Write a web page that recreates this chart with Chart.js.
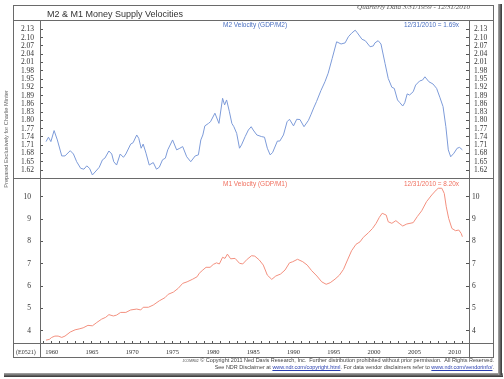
<!DOCTYPE html>
<html>
<head>
<meta charset="utf-8">
<script src="https://cdn.jsdelivr.net/npm/chart.js@4"></script>
<style>
  html, body { margin:0; padding:0; background:#fff; }
  body { width:504px; height:379px; position:relative; overflow:hidden; font-family:"Liberation Sans", Arial, sans-serif; }
  .ln { position:absolute; background:#6a6a6a; }
  .t { position:absolute; white-space:nowrap; line-height:1; }
  canvas { position:absolute; }
  a { color:#2a3fb0; text-decoration:underline; }
</style>
</head>
<body>
<script>
// ---- data ----
const m2Dates = [1959.3,1959.6,1959.9,1960.3,1960.7,1961.25,1961.65,1962.3,1962.7,1963.1,1963.6,1964.0,1964.35,1964.7,1965.05,1965.6,1965.9,1966.3,1966.6,1967.1,1967.45,1967.7,1968.05,1968.5,1968.9,1969.2,1969.8,1970.1,1970.55,1970.8,1971.1,1971.35,1971.7,1972.1,1972.6,1973.0,1973.35,1973.75,1974.1,1974.4,1975.0,1975.5,1975.9,1976.25,1976.75,1977.25,1977.8,1978.2,1978.5,1978.75,1979.0,1979.45,1979.7,1980.25,1980.75,1981.2,1981.45,1981.7,1982.05,1982.35,1982.6,1982.95,1983.3,1983.55,1984.0,1984.4,1984.75,1985.0,1985.45,1986.05,1986.4,1986.75,1987.1,1987.4,1988.0,1988.3,1988.75,1989.2,1989.5,1990.0,1990.4,1990.8,1991.3,1991.85,1992.15,1992.5,1992.85,1993.4,1993.9,1994.3,1994.8,1995.35,1995.9,1996.4,1996.8,1997.2,1997.65,1997.9,1998.5,1998.9,1999.5,1999.9,2000.1,2000.5,2000.85,2001.35,2001.75,2002.2,2002.5,2002.9,2003.2,2003.55,2003.8,2004.1,2004.4,2004.85,2005.15,2005.65,2006.0,2006.3,2006.8,2007.3,2007.75,2008.15,2008.55,2008.9,2009.2,2009.5,2009.9,2010.3,2010.6,2010.95];
const m2Values = [1.723,1.739,1.723,1.763,1.729,1.671,1.671,1.690,1.678,1.650,1.626,1.623,1.635,1.626,1.602,1.620,1.630,1.657,1.663,1.689,1.678,1.650,1.638,1.678,1.666,1.678,1.714,1.719,1.747,1.735,1.699,1.714,1.681,1.638,1.647,1.623,1.630,1.657,1.663,1.693,1.729,1.693,1.699,1.705,1.668,1.650,1.671,1.675,1.729,1.747,1.780,1.789,1.795,1.826,1.789,1.880,1.856,1.874,1.831,1.789,1.777,1.753,1.699,1.711,1.741,1.765,1.777,1.765,1.747,1.741,1.739,1.699,1.675,1.683,1.725,1.725,1.747,1.795,1.804,1.780,1.804,1.803,1.777,1.800,1.820,1.845,1.868,1.908,1.940,1.971,2.025,2.085,2.077,2.081,2.103,2.116,2.127,2.118,2.094,2.089,2.067,2.070,2.081,2.089,2.077,2.007,1.952,1.920,1.916,1.874,1.864,1.852,1.864,1.896,1.892,1.904,1.928,1.943,1.946,1.958,1.940,1.932,1.916,1.884,1.850,1.777,1.693,1.668,1.681,1.699,1.702,1.693];

const m1Dates = [1959.3,1959.7,1960.0,1960.4,1960.8,1961.25,1961.65,1962.3,1962.9,1963.4,1963.9,1964.5,1965.05,1965.6,1966.2,1966.7,1967.1,1967.65,1968.05,1968.55,1969.2,1969.8,1970.55,1971.05,1971.35,1972.0,1972.6,1973.35,1974.05,1974.45,1975.1,1975.7,1976.25,1976.8,1977.5,1978.05,1978.3,1978.75,1979.15,1979.65,1980.05,1980.45,1980.8,1981.2,1981.5,1981.8,1982.2,1982.75,1983.3,1983.7,1984.25,1984.8,1985.2,1985.75,1986.25,1986.75,1987.3,1987.8,1988.4,1988.95,1989.5,1989.9,1990.5,1991.15,1991.7,1992.25,1992.9,1993.5,1994.05,1994.55,1995.15,1995.7,1996.2,1996.7,1997.2,1997.75,1998.25,1998.65,1999.3,1999.8,2000.25,2000.65,2001.0,2001.5,2001.75,2002.2,2002.7,2003.1,2003.55,2004.05,2004.45,2004.85,2005.35,2005.9,2006.5,2007.15,2007.7,2007.95,2008.4,2008.7,2008.95,2009.25,2009.65,2010.1,2010.5,2010.8,2010.95];
const m1Values = [3.58,3.61,3.70,3.76,3.76,3.70,3.76,3.94,4.04,4.08,4.13,4.24,4.22,4.37,4.52,4.60,4.72,4.66,4.70,4.82,4.82,4.93,4.97,4.93,5.05,5.05,5.15,5.34,5.48,5.63,5.73,5.90,6.12,6.19,6.31,6.42,6.57,6.72,6.84,6.84,6.97,7.04,6.99,7.29,7.24,7.43,7.22,7.24,7.02,6.99,7.20,7.36,7.34,7.17,6.94,6.49,6.30,6.45,6.54,6.72,7.04,7.09,7.20,7.09,6.94,6.69,6.45,6.19,6.08,6.15,6.31,6.49,6.75,7.17,7.58,7.87,7.98,8.18,8.39,8.58,8.81,9.08,9.26,9.18,8.88,8.81,8.93,8.81,8.69,8.78,8.81,8.84,9.11,9.37,9.78,10.08,10.30,10.38,10.38,10.15,9.55,9.03,8.58,8.48,8.51,8.36,8.21];

const m2Ticks = [1.62,1.65,1.68,1.71,1.74,1.77,1.80,1.83,1.86,1.89,1.92,1.95,1.98,2.01,2.04,2.07,2.10,2.13];
const m1Ticks = [4,5,6,7,8,9,10];
const yearLabels = [1960,1965,1970,1975,1980,1985,1990,1995,2000,2005,2010];

const titleText = "M2 & M1 Money Supply Velocities";
const periodText = "Quarterly Data 3/31/1959 - 12/31/2010";
const m2Name = "M2 Velocity (GDP/M2)";
const m2Last = "12/31/2010 = 1.69x";
const m1Name = "M1 Velocity (GDP/M1)";
const m1Last = "12/31/2010 = 8.20x";
</script>

<!-- shadow -->
<div class="ln" style="left:4px;top:373px;width:499px;height:4px;background:linear-gradient(#aaa,#333);"></div>
<div class="ln" style="left:498px;top:4px;width:4px;height:371px;background:linear-gradient(90deg,#aaa,#333);"></div>

<canvas id="c1" width="480" height="158" style="left:13px;top:20px;width:480px;height:158px"></canvas>
<canvas id="c2" width="480" height="179" style="left:13px;top:178px;width:480px;height:179px"></canvas>

<!-- frame -->
<div class="ln" style="left:13px;top:5px;width:481px;height:1px;"></div>
<div class="ln" style="left:13px;top:357px;width:481px;height:1px;"></div>
<div class="ln" style="left:13px;top:5px;width:1px;height:353px;"></div>
<div class="ln" style="left:493px;top:5px;width:1px;height:353px;"></div>
<div class="ln" style="left:13px;top:20px;width:481px;height:1px;"></div>
<div class="ln" style="left:13px;top:178px;width:481px;height:1px;"></div>
<div class="ln" style="left:13px;top:343px;width:481px;height:1px;"></div>
<div class="ln" style="left:40px;top:20px;width:1px;height:338px;"></div>
<div class="ln" style="left:469px;top:20px;width:1px;height:338px;"></div>

<div class="t fit" id="title" data-w="136" style="left:47px;top:10px;font-size:10px;color:#333;"></div>
<div class="t fit" id="period" data-w="113" style="right:34px;top:4px;font-size:7.5px;font-style:italic;font-family:'Liberation Serif',serif;color:#555;"></div>
<div class="t fit" id="m2n" data-w="64" style="left:223px;top:22px;font-size:7px;color:#4a6fc0;"></div>
<div class="t fit" id="m2l" data-w="55" style="right:45px;top:22px;font-size:7px;color:#4a6fc0;"></div>
<div class="t fit" id="m1n" data-w="64" style="left:223px;top:181px;font-size:7px;color:#f0705f;"></div>
<div class="t fit" id="m1l" data-w="55" style="right:45px;top:181px;font-size:7px;color:#f0705f;"></div>
<div class="t fit" id="vert" data-w="98" style="left:7px;top:139px;font-size:6px;color:#666;transform:translate(-50%,-50%) rotate(-90deg);">Prepared Exclusively for Charlie Minter</div>
<div class="t" style="left:16px;top:349px;font-size:6px;font-family:'Liberation Serif',serif;color:#333;">(E0521)</div>
<div class="t fit" data-w="312" style="right:10px;top:358px;font-size:5.6px;color:#444;"><span style="font-size:0.6em;">JCOMW02</span> © Copyright 2011 Ned Davis Research, Inc.&nbsp; Further distribution prohibited without prior permission.&nbsp; All Rights Reserved.</div>
<div class="t fit" data-w="280" style="right:10px;top:365px;font-size:5.6px;color:#444;">See NDR Disclaimer at <a>www.ndr.com/copyright.html</a>. For data vendor disclaimers refer to <a>www.ndr.com/vendorinfo/</a>.</div>

<script>
document.getElementById('title').textContent = titleText;
document.getElementById('period').textContent = periodText;
document.getElementById('m2n').textContent = m2Name;
document.getElementById('m2l').textContent = m2Last;
document.getElementById('m1n').textContent = m1Name;
document.getElementById('m1l').textContent = m1Last;

// scale text font sizes to match reference widths
document.querySelectorAll('.fit').forEach(el => {
  const w = el.offsetWidth;
  const target = parseFloat(el.dataset.w);
  const fs = parseFloat(el.style.fontSize);
  if (w > 0) el.style.fontSize = (fs * target / w).toFixed(2) + 'px';
});

const X_MIN = 1958.55, X_MAX = 2011.77;
const serif = { family: "'Liberation Serif', 'Times New Roman', serif", size: 7.5 };

function yAxis(pos, width, pad, min, max, tickArr, fmt) {
  return {
    type: 'linear', position: pos, min: min, max: max,
    border: { display: false },
    grid: { drawOnChartArea: false, drawTicks: true, tickLength: -3, color: '#555', tickColor: '#555' },
    ticks: { font: serif, color: '#333', padding: pad, callback: fmt, autoSkip: false },
    afterBuildTicks: s => { s.ticks = tickArr.map(v => ({ value: v })); },
    afterFit: s => { s.width = width; s.paddingTop = 0; s.paddingBottom = 0; }
  };
}

function pts(xs, ys) { return xs.map((x, i) => ({ x: x, y: ys[i] })); }

const common = {
  responsive: false, maintainAspectRatio: false, animation: false,
  layout: { padding: 0 },
  plugins: { legend: { display: false }, tooltip: { enabled: false } },
  elements: { point: { radius: 0 }, line: { tension: 0 } }
};

new Chart(document.getElementById('c1'), {
  type: 'line',
  data: { datasets: [{ data: pts(m2Dates, m2Values), borderColor: '#7d9bd9', borderWidth: 1, yAxisID: 'y', xAxisID: 'x' }] },
  options: Object.assign({}, common, {
    scales: {
      x: { type: 'linear', min: X_MIN, max: X_MAX, display: false },
      y: yAxis('left', 27, 9, 1.591, 2.164, m2Ticks, v => v.toFixed(2)),
      y2: yAxis('right', 24, 8, 1.591, 2.164, m2Ticks, v => v.toFixed(2))
    }
  })
});

new Chart(document.getElementById('c2'), {
  type: 'line',
  data: { datasets: [{ data: pts(m1Dates, m1Values), borderColor: '#f3907f', borderWidth: 1, yAxisID: 'y', xAxisID: 'x' }] },
  options: Object.assign({}, common, {
    scales: {
      x: {
        type: 'linear', position: 'bottom', min: X_MIN, max: X_MAX,
        border: { display: false },
        grid: { drawOnChartArea: false, drawTicks: true, tickLength: -2, color: '#555', tickColor: '#555' },
        ticks: {
          font: { family: serif.family, size: 6.5 }, color: '#333', padding: 7, maxRotation: 0, autoSkip: false,
          callback: v => yearLabels.includes(v) ? String(v) : ''
        },
        afterBuildTicks: s => { const t = []; for (let y = 1959; y <= 2011; y++) t.push({ value: y }); s.ticks = t; },
        afterFit: s => { s.height = 14; s.paddingLeft = 0; s.paddingRight = 0; }
      },
      y: yAxis('left', 27, 12, 3.45, 10.84, m1Ticks, v => String(v)),
      y2: yAxis('right', 24, 6, 3.45, 10.84, m1Ticks, v => String(v))
    }
  })
});
</script>
</body>
</html>
